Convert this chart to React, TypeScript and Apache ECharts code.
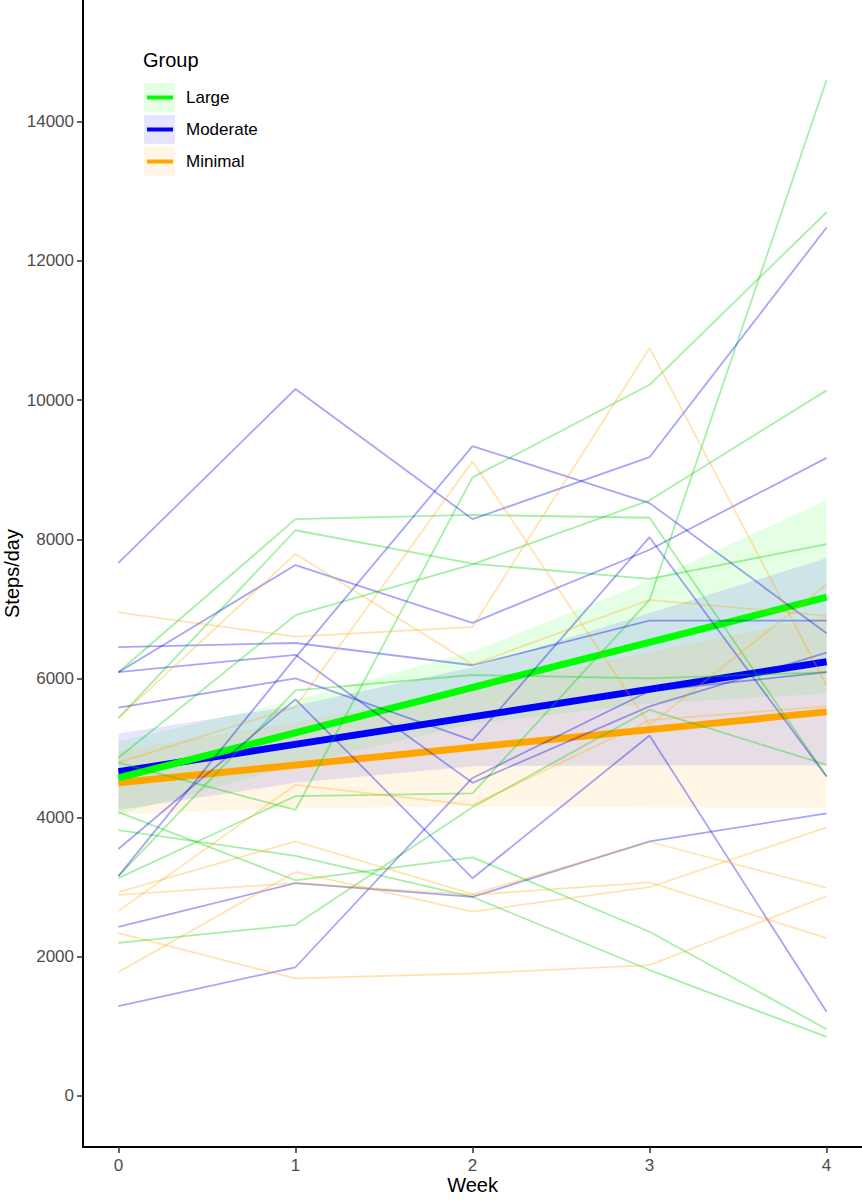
import { useEffect, useRef } from 'react';
import * as echarts from 'echarts';

// weeks of follow-up
const weeks = [0, 1, 2, 3, 4];
const yTicks = [0, 2000, 4000, 6000, 8000, 10000, 12000, 14000];

const groupNames = ['Large', 'Moderate', 'Minimal'];
const groupColors = ['#00ff00', '#0000ff', '#ffa500'];
const thinColors = ['rgba(0,210,0,0.35)', 'rgba(0,0,230,0.35)', 'rgba(255,165,0,0.3)'];
const bandColors = ['rgba(0,255,0,0.1)', 'rgba(0,0,255,0.1)', 'rgba(255,165,0,0.1)'];

// individual participants, steps/day at weeks 0..4
const largeSubjects = [
  [4790, 4110, 8890, 10220, 12700],
  [6090, 8290, 8350, 8310, 4590],
  [5430, 8130, 7650, 7430, 7930],
  [4860, 6910, 7640, 8560, 10140],
  [3160, 5830, 6050, 6000, 6090],
  [3130, 4310, 4350, 7130, 14600],
  [4080, 3100, 3430, 2360, 960],
  [3820, 3450, 2860, 1810, 850],
  [2200, 2460, 4150, 5550, 4760],
];
const moderateSubjects = [
  [7660, 10160, 8290, 9180, 12480],
  [3160, 6300, 9340, 8520, 6650],
  [6090, 7630, 6800, 7850, 9170],
  [6450, 6510, 6190, 6830, 6830],
  [5580, 6000, 5110, 8030, 4590],
  [3550, 5700, 3130, 5180, 1210],
  [6090, 6340, 4500, 5600, 6370],
  [1290, 1850, 4570, 5820, 6090],
  [2430, 3060, 2860, 3660, 4060],
];
const minimalSubjects = [
  [6950, 6600, 6740, 10750, 5900],
  [5430, 7790, 6200, 7130, 6900],
  [4790, 5590, 9120, 5330, 7350],
  [2660, 4470, 4180, 5400, 5600],
  [2930, 3660, 2900, 3650, 2990],
  [2890, 3060, 2890, 3070, 2270],
  [1780, 3220, 2650, 3000, 3860],
  [2340, 1690, 1760, 1880, 2870],
];

// fitted lines (week 0 and week 4)
const fitWeeks = [0, 4];
const largeFit = [4570, 7170];
const moderateFit = [4660, 6240];
const minimalFit = [4500, 5520];

// confidence bands at weeks 0..4
const largeLower = [4050, 4750, 5350, 5640, 5780];
const largeUpper = [5090, 5690, 6390, 7400, 8560];
const moderateLower = [4110, 4500, 4740, 4750, 4750];
const moderateUpper = [5210, 5610, 6160, 6940, 7730];
const minimalLower = [4040, 4140, 4160, 4150, 4140];
const minimalUpper = [4960, 5370, 5860, 6380, 6900];

const subjects = [largeSubjects, moderateSubjects, minimalSubjects];
const fits = [largeFit, moderateFit, minimalFit];
const bands = [
  [largeLower, largeUpper],
  [moderateLower, moderateUpper],
  [minimalLower, minimalUpper],
];

const FONT = '"Liberation Sans", Arial, sans-serif';

function bandSeries(lower: number[], upper: number[], color: string) {
  return {
    type: 'custom',
    silent: true,
    clip: true,
    data: [[weeks[0], lower[0]]],
    renderItem: (_params: any, api: any) => {
      const top = weeks.map((w, i) => api.coord([w, upper[i]]));
      const bottom = weeks.map((w, i) => api.coord([w, lower[i]])).reverse();
      return {
        type: 'polygon',
        shape: { points: [...top, ...bottom] },
        style: { fill: color },
      };
    },
  };
}

export default function App() {
  const ref = useRef<HTMLDivElement>(null);

  useEffect(() => {
    document.body.style.margin = '0';
    if (!ref.current) return;
    const chart = echarts.init(ref.current, undefined, { renderer: 'svg' });

    const series: any[] = [];

    // ribbons
    bands.forEach(([lo, hi], g) => series.push(bandSeries(lo, hi, bandColors[g])));

    // fitted lines, drawn minimal first so Large ends on top
    [2, 1, 0].forEach((g) => {
      series.push({
        type: 'line',
        name: groupNames[g],
        data: fitWeeks.map((w, i) => [w, fits[g][i]]),
        symbol: 'none',
        lineStyle: { color: groupColors[g], width: 7 },
        silent: true,
      });
    });

    // individual trajectories
    subjects.forEach((list, g) => {
      list.forEach((vals) => {
        series.push({
          type: 'line',
          data: weeks.map((w, i) => [w, vals[i]]),
          symbol: 'none',
          lineStyle: { color: thinColors[g], width: 1.8 },
          silent: true,
        });
      });
    });

    const legendItems: any[] = [
      {
        type: 'text',
        left: 143,
        top: 50,
        style: { text: 'Group', fontSize: 20, fontFamily: FONT, fill: '#000' },
      },
    ];
    groupNames.forEach((name, g) => {
      const y0 = 83 + g * 32;
      legendItems.push(
        {
          type: 'rect',
          shape: { x: 144, y: y0, width: 31, height: 29 },
          style: { fill: bandColors[g] },
        },
        {
          type: 'line',
          shape: { x1: 147, y1: y0 + 14.5, x2: 173, y2: y0 + 14.5 },
          style: { stroke: groupColors[g], lineWidth: 4 },
        },
        {
          type: 'text',
          x: 186,
          y: y0 + 14.5,
          style: {
            text: name,
            fontSize: 17,
            fontFamily: FONT,
            fill: '#000',
            verticalAlign: 'middle',
          },
        }
      );
    });

    const plain = (v: number) => String(v);

    chart.setOption({
      animation: false,
      backgroundColor: '#fff',
      textStyle: { fontFamily: FONT },
      grid: { left: 83, right: 0, top: 0, bottom: 53, outerBoundsMode: 'none', containLabel: false },
      xAxis: {
        type: 'value',
        min: -0.2,
        max: 4.2,
        name: 'Week',
        nameLocation: 'middle',
        nameGap: 28,
        nameMoveOverlap: false,
        nameTextStyle: { fontSize: 20, color: '#000', fontFamily: FONT },
        axisLine: { show: true, onZero: false, lineStyle: { color: '#000', width: 2 } },
        axisTick: { show: true, length: 6, customValues: weeks, lineStyle: { color: '#333', width: 1.5 } },
        axisLabel: { customValues: weeks, formatter: plain, fontSize: 17, color: '#4d4d4d', margin: 10, fontFamily: FONT },
        splitLine: { show: false },
      },
      yAxis: {
        type: 'value',
        min: -733,
        max: 15750,
        name: 'Steps/day',
        nameLocation: 'middle',
        nameGap: 61,
        nameMoveOverlap: false,
        nameTextStyle: { fontSize: 20, color: '#000', fontFamily: FONT },
        axisLine: { show: true, onZero: false, lineStyle: { color: '#000', width: 2 } },
        axisTick: { show: true, length: 6, customValues: yTicks, lineStyle: { color: '#333', width: 1.5 } },
        axisLabel: { customValues: yTicks, formatter: plain, fontSize: 17, color: '#4d4d4d', margin: 9, fontFamily: FONT },
        splitLine: { show: false },
      },
      graphic: legendItems,
      series,
    });

    return () => chart.dispose();
  }, []);

  return <div ref={ref} style={{ width: 862, height: 1200 }} />;
}
